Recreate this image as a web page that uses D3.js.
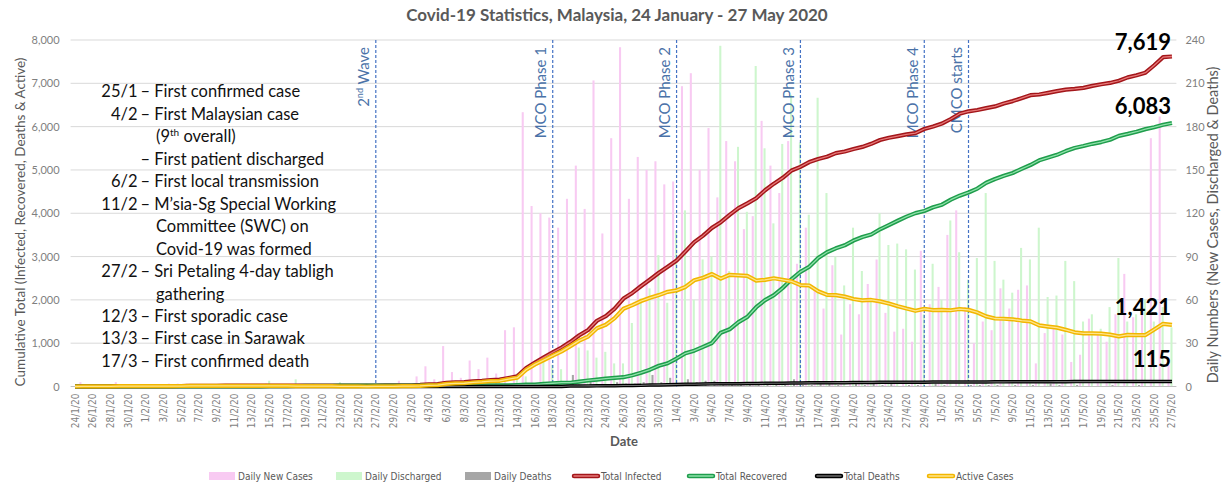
<!DOCTYPE html>
<html>
<head>
<meta charset="utf-8">
<script src="https://cdn.jsdelivr.net/npm/d3@7"></script>
<style>
  body { margin: 0; background: #fff; }
  svg { display: block; }
</style>
</head>
<body>
<div id="chart"></div>
<script>
// Covid-19 Statistics, Malaysia, 24 Jan - 27 May 2020
// daily values, one per day from 24/1/20 to 27/5/20 (125 days)

var firstDay = new Date(2020, 0, 24);
var lastDay = new Date(2020, 4, 27);

var dailyNewCases = [
  0, 3, 1, 0, 0, 3, 1, 0, 0, 0,
  0, 2, 2, 2, 1, 1, 1, 1, 0, 0,
  1, 0, 2, 1, 0, 0, 0, 0, 0, 0,
  0, 0, 0, 0, 1, 2, 0, 4, 0, 7,
  14, 5, 28, 10, 6, 18, 12, 20, 9, 39,
  41, 190, 125, 120, 117, 110, 130, 153, 123, 212,
  106, 172, 235, 130, 159, 150, 156, 140, 142, 208,
  217, 150, 179, 131, 170, 156, 109, 118, 184, 153,
  134, 170, 85, 110, 69, 54, 84, 36, 57, 50,
  71, 88, 51, 38, 40, 31, 94, 57, 69, 105,
  122, 55, 30, 45, 39, 68, 54, 67, 70, 16,
  37, 40, 36, 17, 22, 47, 37, 31, 50, 78,
  48, 60, 172, 187, 15
];

var dailyDischarged = [
  0, 0, 0, 0, 0, 0, 0, 0, 0, 0,
  0, 1, 0, 0, 0, 1, 1, 0, 0, 0,
  0, 0, 4, 0, 0, 5, 1, 2, 0, 0,
  3, 0, 2, 2, 0, 0, 0, 0, 0, 0,
  0, 0, 0, 1, 1, 0, 0, 2, 0, 0,
  9, 7, 0, 18, 15, 12, 0, 27, 25, 20,
  24, 16, 16, 44, 61, 68, 91, 58, 108, 122,
  60, 88, 90, 236, 80, 166, 121, 222, 165, 113,
  168, 202, 169, 119, 200, 134, 90, 70, 110, 80,
  60, 120, 98, 99, 95, 81, 50, 85, 60, 115,
  93, 74, 89, 134, 87, 74, 65, 96, 88, 110,
  62, 63, 87, 73, 45, 50, 40, 55, 89, 45,
  50, 60, 45, 55, 41
];

var dailyDeaths = [
  0, 0, 0, 0, 0, 0, 0, 0, 0, 0,
  0, 0, 0, 0, 0, 0, 0, 0, 0, 0,
  0, 0, 0, 0, 0, 0, 0, 0, 0, 0,
  0, 0, 0, 0, 0, 0, 0, 0, 0, 0,
  0, 0, 0, 0, 0, 0, 0, 0, 0, 0,
  0, 0, 0, 2, 0, 0, 8, 0, 4, 1,
  1, 3, 2, 2, 3, 8, 3, 6, 2, 5,
  3, 4, 4, 1, 1, 2, 2, 3, 3, 3,
  1, 5, 1, 1, 2, 2, 1, 0, 3, 1,
  2, 1, 2, 0, 1, 1, 0, 2, 1, 0,
  0, 1, 1, 1, 1, 0, 1, 0, 1, 0,
  2, 1, 0, 1, 0, 0, 0, 1, 0, 0,
  1, 0, 0, 0, 0
];

var leftTicks = [0, 1000, 2000, 3000, 4000, 5000, 6000, 7000, 8000];
var rightTicks = [0, 30, 60, 90, 120, 150, 180, 210, 240];

var events = [
  { date: '27/2/20', label: '2nd Wave', sup: true },
  { date: '18/3/20', label: 'MCO Phase 1' },
  { date: '1/4/20', label: 'MCO Phase 2' },
  { date: '15/4/20', label: 'MCO Phase 3' },
  { date: '29/4/20', label: 'MCO Phase 4' },
  { date: '4/5/20', label: 'CMCO starts' }
];

// timeline notes: [date, text, 'cont' for wrapped lines]
var notes = [
  ['25/1', '\u2013 First confirmed case'],
  ['4/2', '\u2013 First Malaysian case'],
  ['', '(9|th| overall)', 'cont'],
  ['', '\u2013 First patient discharged'],
  ['6/2', '\u2013 First local transmission'],
  ['11/2', '\u2013 M\u2019sia-Sg Special Working'],
  ['', 'Committee (SWC) on', 'cont'],
  ['', 'Covid-19 was formed', 'cont'],
  ['27/2', '\u2013 Sri Petaling 4-day tabligh'],
  ['', 'gathering', 'cont'],
  ['12/3', '\u2013 First sporadic case'],
  ['13/3', '\u2013 First case in Sarawak'],
  ['17/3', '\u2013 First confirmed death']
];

var legendItems = [
  { label: 'Daily New Cases', type: 'bar', color: '#f8caf2' },
  { label: 'Daily Discharged', type: 'bar', color: '#cdf6cd' },
  { label: 'Daily Deaths', type: 'bar', color: '#a6a6a6' },
  { label: 'Total Infected', type: 'line', outer: '#a3161a', inner: '#e87b7b' },
  { label: 'Total Recovered', type: 'line', outer: '#1f9d4c', inner: '#8fe2aa' },
  { label: 'Total Deaths', type: 'line', outer: '#000000', inner: '#6e6e6e' },
  { label: 'Active Cases', type: 'line', outer: '#f2b600', inner: '#ffe58a' }
];

var W = 1223, H = 484;
var PLOT_LEFT = 70.6, PLOT_RIGHT = 1176.4, PLOT_TOP = 40, PLOT_BOTTOM = 386.5;
var AXIS_GRAY = '#7f7f7f';
var EVENT_BLUE = '#4a72a8';
var NARROW = '"Liberation Sans Narrow", "DejaVu Sans Condensed", sans-serif';
var BODY = 'Lato, "Open Sans", sans-serif';

var dates = d3.timeDay.range(firstDay, d3.timeDay.offset(lastDay, 1));
var fmtDate = function(d) { return d.getDate() + '/' + (d.getMonth() + 1) + '/20'; };
var dateLabels = dates.map(fmtDate);

var totalInfected = Array.from(d3.cumsum(dailyNewCases));
var totalRecovered = Array.from(d3.cumsum(dailyDischarged));
var totalDeaths = Array.from(d3.cumsum(dailyDeaths));
var activeCases = totalInfected.map(function(v, i) { return v - totalRecovered[i] - totalDeaths[i]; });

var svg = d3.select('#chart').append('svg')
  .attr('width', W)
  .attr('height', H);

var x = d3.scaleBand()
  .domain(d3.range(dates.length))
  .range([PLOT_LEFT, PLOT_RIGHT])
  .padding(0);

var xSub = d3.scaleBand()
  .domain(['new', 'dis', 'dth'])
  .range([0, x.bandwidth()])
  .paddingInner(0.3)
  .paddingOuter(0.15);

var yLeft = d3.scaleLinear().domain([0, 8000]).range([PLOT_BOTTOM, PLOT_TOP]);
var yRight = d3.scaleLinear().domain([0, 240]).range([PLOT_BOTTOM, PLOT_TOP]);

function cx(i) { return x(i) + x.bandwidth() / 2; }

// title
svg.append('text')
  .attr('x', 617)
  .attr('y', 15)
  .attr('dy', '0.35em')
  .attr('text-anchor', 'middle')
  .attr('font-family', BODY)
  .attr('font-weight', 'bold')
  .attr('font-size', '17px')
  .attr('fill', '#595959')
  .text('Covid-19 Statistics, Malaysia, 24 January - 27 May 2020');

// gridlines
svg.append('g').selectAll('line')
  .data(leftTicks.slice(1))
  .join('line')
  .attr('x1', PLOT_LEFT)
  .attr('x2', PLOT_RIGHT)
  .attr('y1', function(d) { return yLeft(d); })
  .attr('y2', function(d) { return yLeft(d); })
  .attr('stroke', '#d9d9d9')
  .attr('stroke-width', 1);

// left axis
var leftAxis = svg.append('g')
  .attr('transform', 'translate(' + PLOT_LEFT + ',0)')
  .call(d3.axisLeft(yLeft).tickValues(leftTicks).tickSize(0).tickPadding(11).tickFormat(d3.format(',')));
leftAxis.select('.domain').remove();
leftAxis.selectAll('text')
  .attr('font-family', BODY)
  .attr('font-size', '11px')
  .attr('fill', AXIS_GRAY);

// right axis
var rightAxis = svg.append('g')
  .attr('transform', 'translate(' + PLOT_RIGHT + ',0)')
  .call(d3.axisRight(yRight).tickValues(rightTicks).tickSize(0).tickPadding(9));
rightAxis.select('.domain').remove();
rightAxis.selectAll('text')
  .attr('font-family', BODY)
  .attr('font-size', '11px')
  .attr('fill', AXIS_GRAY);

// bars (secondary axis)
var bars = svg.append('g');
function drawBars(values, key, color) {
  bars.append('g').selectAll('rect')
    .data(values)
    .join('rect')
    .attr('x', function(d, i) { return x(i) + xSub(key) - 0.5; })
    .attr('width', xSub.bandwidth())
    .attr('y', function(d) { return yRight(d); })
    .attr('height', function(d) { return yRight(0) - yRight(d); })
    .attr('fill', color);
}
drawBars(dailyNewCases, 'new', legendItems[0].color);
drawBars(dailyDischarged, 'dis', legendItems[1].color);
drawBars(dailyDeaths, 'dth', legendItems[2].color);

// x axis baseline
svg.append('line')
  .attr('x1', PLOT_LEFT)
  .attr('x2', PLOT_RIGHT)
  .attr('y1', PLOT_BOTTOM)
  .attr('y2', PLOT_BOTTOM)
  .attr('stroke', '#bfbfbf');

// x tick labels, every second day
svg.append('g').selectAll('text')
  .data(dateLabels.filter(function(d, i) { return i % 2 === 0; }))
  .join('text')
  .attr('transform', function(d) {
    return 'translate(' + cx(dateLabels.indexOf(d)) + ',' + (PLOT_BOTTOM + 7) + ') rotate(-90)';
  })
  .attr('dy', '0.35em')
  .attr('text-anchor', 'end')
  .attr('font-family', NARROW)
  .attr('font-size', '10px')
  .attr('fill', AXIS_GRAY)
  .text(function(d) { return d; });

// event lines
events.forEach(function(ev) {
  var ex = cx(dateLabels.indexOf(ev.date));
  svg.append('line')
    .attr('x1', ex)
    .attr('x2', ex)
    .attr('y1', PLOT_TOP)
    .attr('y2', PLOT_BOTTOM)
    .attr('stroke', '#4472c4')
    .attr('stroke-width', 1.2)
    .attr('stroke-dasharray', '3,2');
  var t = svg.append('text')
    .attr('transform', 'translate(' + (ex - 12) + ',' + (PLOT_TOP + 7) + ') rotate(-90)')
    .attr('dy', '0.35em')
    .attr('text-anchor', 'end')
    .attr('font-family', BODY)
    .attr('font-size', '15px')
    .attr('fill', EVENT_BLUE);
  if (ev.sup) {
    t.append('tspan').text('2');
    t.append('tspan').attr('font-size', '9px').attr('dy', '-6').text('nd');
    t.append('tspan').attr('dy', '6').text(' Wave');
  } else {
    t.text(ev.label);
  }
});

// lines, in series order (active cases drawn last, on top)
function drawLine(values, item, w) {
  var line = d3.line()
    .x(function(d, i) { return cx(i); })
    .y(function(d) { return yLeft(d); });
  svg.append('path')
    .attr('d', line(values))
    .attr('fill', 'none')
    .attr('stroke', item.outer)
    .attr('stroke-width', w)
    .attr('stroke-linejoin', 'round');
  svg.append('path')
    .attr('d', line(values))
    .attr('fill', 'none')
    .attr('stroke', item.inner)
    .attr('stroke-width', w * 0.3)
    .attr('stroke-linejoin', 'round');
}
drawLine(totalInfected, legendItems[3], 4.2);
drawLine(totalRecovered, legendItems[4], 4.2);
drawLine(totalDeaths, legendItems[5], 3.5);
drawLine(activeCases, legendItems[6], 4.2);

// end value labels
var last = dates.length - 1;
[
  { v: totalInfected[last], y: 42 },
  { v: totalRecovered[last], y: 106 },
  { v: activeCases[last], y: 307 },
  { v: totalDeaths[last], y: 359 }
].forEach(function(lab) {
  svg.append('text')
    .attr('x', 1171)
    .attr('y', lab.y)
    .attr('dy', '0.35em')
    .attr('text-anchor', 'end')
    .attr('font-family', BODY)
    .attr('font-weight', 'bold')
    .attr('font-size', '22px')
    .attr('fill', '#000')
    .text(d3.format(',')(lab.v));
});

// timeline notes
var NOTE_TOP = 91.7, NOTE_STEP = 22.45;
notes.forEach(function(n, i) {
  var ny = NOTE_TOP + i * NOTE_STEP;
  if (n[0]) {
    svg.append('text')
      .attr('x', 137.5)
      .attr('y', ny)
      .attr('dy', '0.35em')
      .attr('text-anchor', 'end')
      .attr('font-family', BODY)
      .attr('font-size', '16.5px')
      .attr('fill', '#111')
      .text(n[0]);
  }
  var t = svg.append('text')
    .attr('x', n[2] === 'cont' ? 156 : 140.5)
    .attr('y', ny)
    .attr('dy', '0.35em')
    .attr('font-family', BODY)
    .attr('font-size', '16.5px')
    .attr('fill', '#111');
  var parts = n[1].split('|');
  if (parts.length === 3) {
    t.append('tspan').text(parts[0]);
    t.append('tspan').attr('font-size', '10px').attr('dy', '-6').text(parts[1]);
    t.append('tspan').attr('dy', '6').text(parts[2]);
  } else {
    t.text(n[1]);
  }
});

// axis titles
svg.append('text')
  .attr('transform', 'translate(20,222) rotate(-90)')
  .attr('dy', '0.35em')
  .attr('text-anchor', 'middle')
  .attr('font-family', BODY)
  .attr('font-size', '13.5px')
  .attr('fill', '#595959')
  .text('Cumulative Total (Infected, Recovered, Deaths & Active)');

svg.append('text')
  .attr('transform', 'translate(1213,225) rotate(-90)')
  .attr('dy', '0.35em')
  .attr('text-anchor', 'middle')
  .attr('font-family', BODY)
  .attr('font-size', '14.5px')
  .attr('fill', '#595959')
  .text('Daily Numbers (New Cases, Discharged & Deaths)');

svg.append('text')
  .attr('x', 624)
  .attr('y', 441)
  .attr('dy', '0.35em')
  .attr('text-anchor', 'middle')
  .attr('font-family', BODY)
  .attr('font-weight', 'bold')
  .attr('font-size', '13px')
  .attr('fill', '#595959')
  .text('Date');

// legend
var legendX = [209, 336, 465, 572, 687, 815, 927];
var legend = svg.append('g').attr('transform', 'translate(0,476)');
legendItems.forEach(function(item, i) {
  var g = legend.append('g').attr('transform', 'translate(' + legendX[i] + ',0)');
  if (item.type === 'bar') {
    g.append('rect')
      .attr('x', 0).attr('y', -4)
      .attr('width', 26).attr('height', 8)
      .attr('fill', item.color);
  } else {
    g.append('line')
      .attr('x1', 2).attr('x2', 26)
      .attr('stroke', item.outer).attr('stroke-width', 4.5)
      .attr('stroke-linecap', 'round');
    g.append('line')
      .attr('x1', 2).attr('x2', 26)
      .attr('stroke', item.inner).attr('stroke-width', 1.3)
      .attr('stroke-linecap', 'round');
  }
  g.append('text')
    .attr('x', 29).attr('dy', '0.35em')
    .attr('font-family', NARROW).attr('font-size', '10px')
    .attr('fill', '#595959')
    .text(item.label);
});
</script>
</body>
</html>
